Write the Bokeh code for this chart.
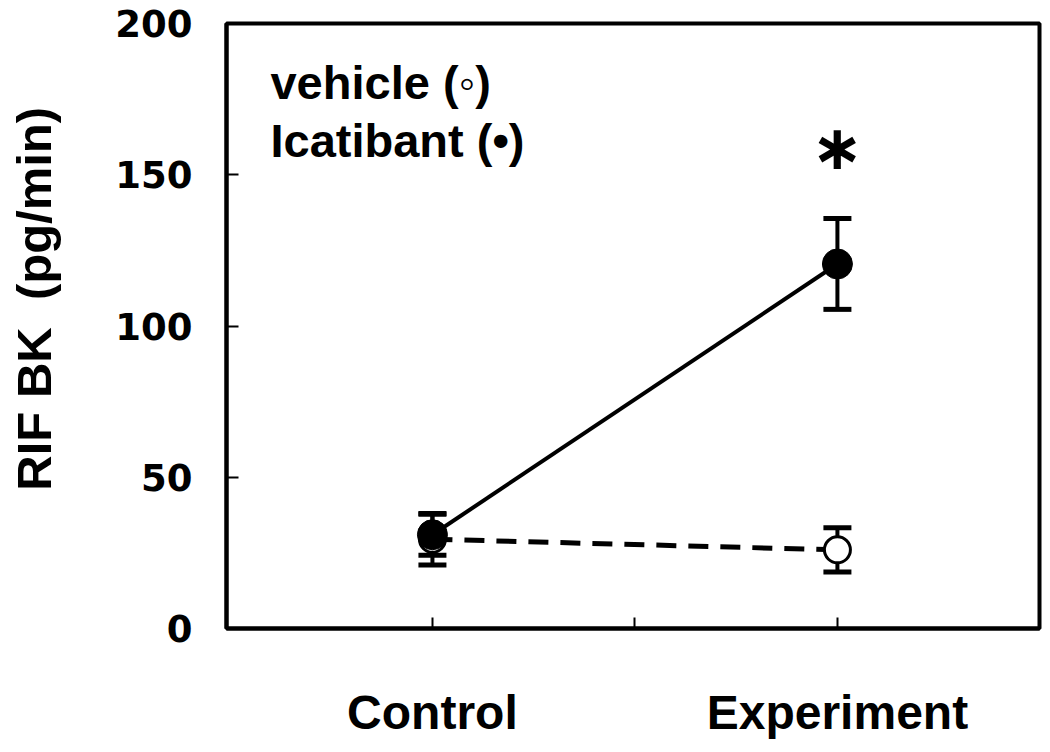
from bokeh.plotting import figure
from bokeh.models import (ColumnDataSource, Whisker, TeeHead, FixedTicker, Range1d,
                          Label, CustomJSTickFormatter)
from bokeh.embed import file_html
from bokeh.resources import INLINE

# ---- data ----
categories = ["Control", "Experiment"]
x_pos = [1, 3]
vehicle_mean = [29.5, 26.0]
vehicle_err = [8.5, 7.3]
icatibant_mean = [31.0, 120.5]
icatibant_err = [6.8, 15.0]
y_ticks = [0, 50, 100, 150, 200]
x_ticks = [1, 2, 3]
legend_labels = ["vehicle (\u25e6)", "Icatibant (\u2022)"]
significance = "\u2217"
y_label = "\u00a0\u00a0\u00a0\u00a0RIF BK\u00a0 (pg/min)"

veh = ColumnDataSource(dict(
    x=x_pos, y=vehicle_mean,
    upper=[m + e for m, e in zip(vehicle_mean, vehicle_err)],
    lower=[m - e for m, e in zip(vehicle_mean, vehicle_err)]))
ica = ColumnDataSource(dict(
    x=x_pos, y=icatibant_mean,
    upper=[m + e for m, e in zip(icatibant_mean, icatibant_err)],
    lower=[m - e for m, e in zip(icatibant_mean, icatibant_err)]))

p = figure(width=1042, height=744,
           x_range=Range1d(-0.017, 3.998), y_range=Range1d(0, 200),
           output_backend="svg", toolbar_location=None,
           min_border_left=226, min_border_right=3,
           min_border_top=23, min_border_bottom=116)
p.grid.visible = False
p.outline_line_color = "black"
p.outline_line_width = 4

# y axis
p.yaxis.ticker = FixedTicker(ticks=y_ticks, minor_ticks=[])
p.yaxis.minor_tick_line_color = None
p.yaxis.major_tick_in = 12
p.yaxis.major_tick_out = 0
p.yaxis.major_tick_line_width = 2
p.yaxis.axis_line_width = 4
p.yaxis.major_label_text_font = "DejaVu Sans"
p.yaxis.major_label_text_font_style = "bold"
p.yaxis.major_label_text_font_size = "37px"
p.yaxis.major_label_text_color = "black"
p.yaxis.major_label_standoff = 34
p.yaxis.axis_label = y_label
p.yaxis.axis_label_text_font = "Liberation Sans"
p.yaxis.axis_label_text_font_style = "bold"
p.yaxis.axis_label_text_font_size = "49px"
p.yaxis.axis_label_text_color = "black"
p.yaxis.axis_label_standoff = 51

# x axis
p.xaxis.ticker = FixedTicker(ticks=x_ticks, minor_ticks=[])
p.xaxis.formatter = CustomJSTickFormatter(
    args=dict(names=categories),
    code="if (tick == 1) { return names[0]; } if (tick == 3) { return names[1]; } return ' ';")
p.xaxis.minor_tick_line_color = None
p.xaxis.major_tick_in = 11
p.xaxis.major_tick_out = 0
p.xaxis.major_tick_line_width = 2
p.xaxis.axis_line_width = 4
p.xaxis.major_label_text_font = "Liberation Sans"
p.xaxis.major_label_text_font_style = "bold"
p.xaxis.major_label_text_font_size = "48px"
p.xaxis.major_label_text_color = "black"
p.xaxis.major_label_standoff = 57

# error bars
for src in (veh, ica):
    p.add_layout(Whisker(source=src, base="x", upper="upper", lower="lower",
                         line_width=4, line_color="black",
                         upper_head=TeeHead(size=28, line_width=5, line_color="black"),
                         lower_head=TeeHead(size=28, line_width=5, line_color="black")))

# lines
p.line("x", "y", source=veh, line_color="black", line_width=5, line_dash="20 12")
p.line("x", "y", source=ica, line_color="black", line_width=4)

# markers
p.scatter("x", "y", source=veh, size=26, marker="circle",
          fill_color="white", line_color="black", line_width=3)
p.scatter("x", "y", source=ica, size=30, marker="circle",
          fill_color="black", line_color="black", line_width=1)

# legend text
for lab, yy in zip(legend_labels, [180.5, 161.3]):
    p.add_layout(Label(x=0.2, y=yy, text=lab, text_font="Liberation Sans",
                       text_font_style="bold", text_font_size="47px",
                       text_baseline="alphabetic", text_align="left",
                       text_color="black"))

# significance star
p.add_layout(Label(x=3, y=159.1, text=significance, text_font="DejaVu Sans",
                   text_font_style="bold", text_font_size="62px",
                   text_baseline="alphabetic", text_align="center",
                   text_color="black"))

open("out.html", "w").write(file_html(p, INLINE))
